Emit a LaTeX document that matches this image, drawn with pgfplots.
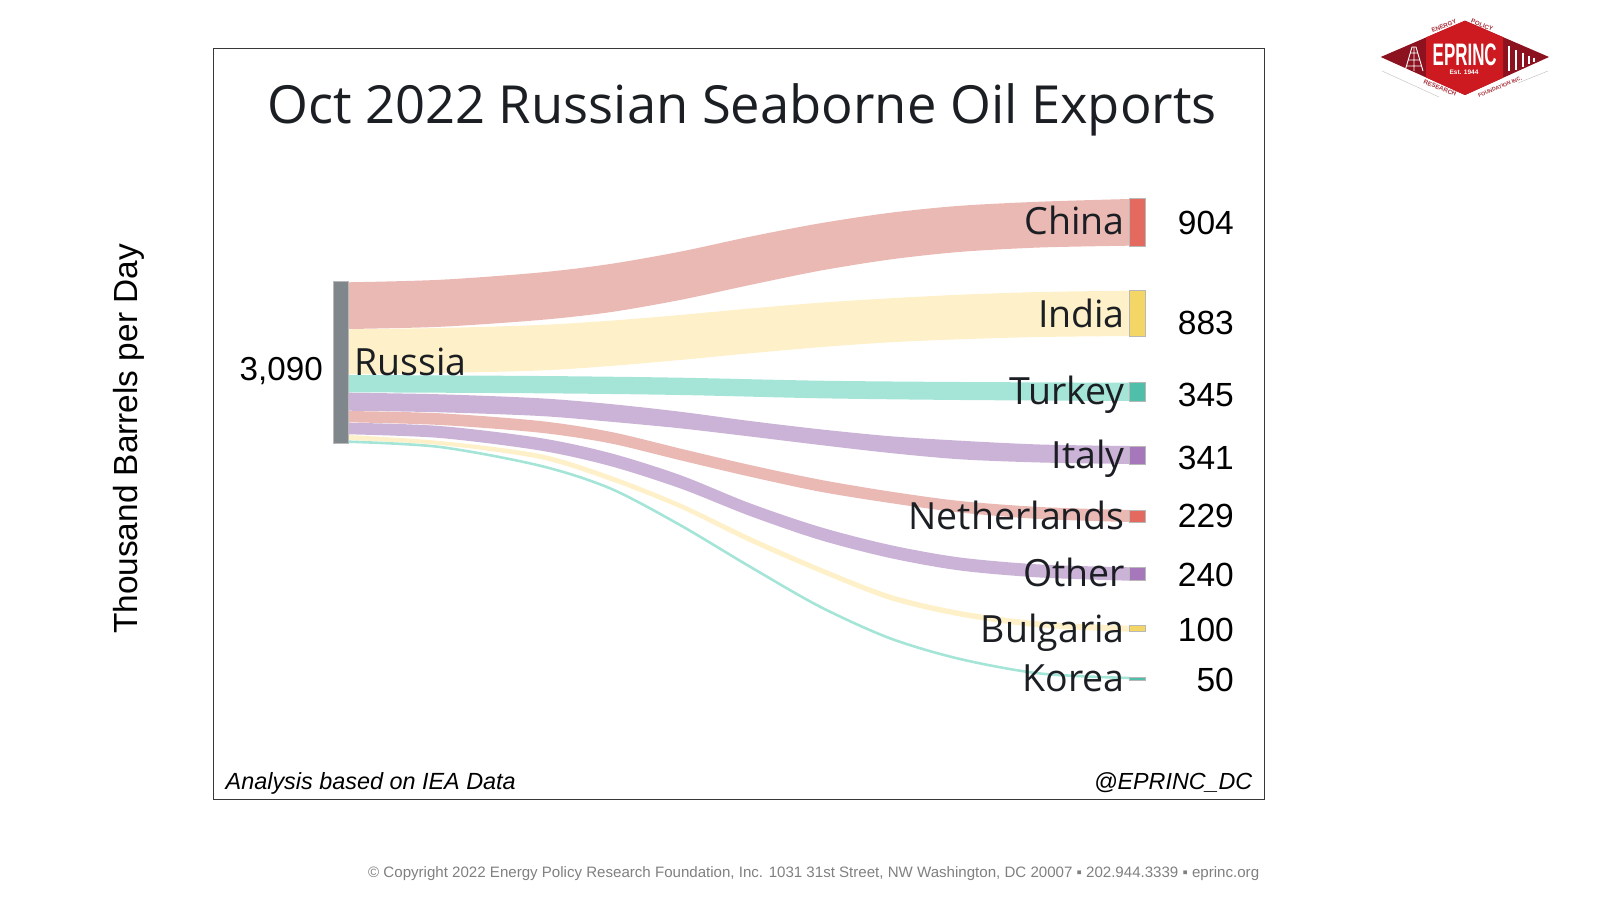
\documentclass[border=0pt]{standalone}
\usepackage{fontspec}
\usepackage{pgfplots}
\pgfplotsset{compat=1.18}
\usepgfplotslibrary{fillbetween}
\setmainfont{Liberation Sans}
\newfontfamily\os{Open Sans}
\definecolor{bandred}{HTML}{EBB9B4}
\definecolor{bandyel}{HTML}{FEF0C8}
\definecolor{bandgrn}{HTML}{A5E5D8}
\definecolor{bandpur}{HTML}{CBB3D7}
\definecolor{nodered}{HTML}{E46A60}
\definecolor{nodeyel}{HTML}{F4D666}
\definecolor{nodegrn}{HTML}{4FBFA9}
\definecolor{nodepur}{HTML}{A678BB}
\definecolor{nodegry}{HTML}{7F868C}
\definecolor{logored}{HTML}{CC1A20}
\definecolor{logodark}{HTML}{8C1220}
\definecolor{logotxt}{HTML}{A8323C}
\definecolor{inkc}{HTML}{1B1E22}
\newcommand\band[4]{%
  \addplot[name path=#1T,draw=none,smooth,forget plot] coordinates {#3};
  \addplot[name path=#1B,draw=none,smooth,forget plot] coordinates {#4};
  \addplot[fill=#2,draw=none,forget plot] fill between[of=#1T and #1B];
}
\newcommand\nodebar[3]{%
  \addplot[fill=#1,draw=black!28,line width=0.9pt,forget plot] coordinates {(1129.5,#2)(1145.5,#2)(1145.5,#3)(1129.5,#3)} -- cycle;
}
\begin{document}
\begin{tikzpicture}
\begin{axis}[
  scale only axis, width=1051pt, height=751pt,
  xmin=213, xmax=1264, ymin=48, ymax=799, y dir=reverse,
  xtick=\empty, ytick=\empty, clip=false,
  axis line style={draw=black!78,line width=0.9pt},
  ylabel={\fontsize{33.4}{33.4}\selectfont Thousand Barrels per Day},
  every axis y label/.style={at={(axis cs:137.5,439)},rotate=90,anchor=base,inner sep=0pt},
]
\band{cn}{bandred}{(348.3,282.3)(440,279.8)(540,272.5)(610,264)(680,251.7)(750,236.7)(820,223.3)(890,212.8)(960,205.8)(1040,201.7)(1129.3,199)}
{(348.3,329)(440,326.8)(540,320)(610,312.2)(680,300)(750,285)(820,270.7)(890,259.5)(960,251.9)(1040,247.5)(1129.3,245.7)}
\band{in}{bandyel}{(348.3,329.3)(440,328)(540,325)(610,320.7)(680,315)(750,308.5)(820,302.7)(890,298.3)(960,294.7)(1040,292)(1129.3,290.7)}
{(348.3,374.3)(440,373)(540,370.5)(610,366)(680,360)(750,353.3)(820,347.2)(890,342.3)(960,339.3)(1040,337)(1129.3,336)}
\band{tr}{bandgrn}{(348.3,375)(540,376)(680,377.7)(820,380.7)(960,382)(1129.3,382.7)}
{(348.3,392.3)(540,393.3)(680,395)(820,398.3)(960,400)(1129.3,401)}
\band{it}{bandpur}{(348.3,392.7)(440,394.3)(540,398.3)(610,404)(680,411.7)(750,421)(820,429.3)(890,436.2)(960,440.7)(1040,444.5)(1129.3,446)}
{(348.3,410.7)(440,412.3)(540,416)(610,421.7)(680,428.3)(750,436.5)(820,445)(890,453)(960,459.3)(1040,462.5)(1129.3,464)}
\band{nl}{bandred}{(348.3,411)(440,413.3)(540,421)(610,431.7)(680,448.5)(750,465)(820,479.7)(890,491.5)(960,501)(1040,507)(1129.3,510)}
{(348.3,422.3)(440,425)(540,432.7)(610,443.3)(680,460.2)(750,476.7)(820,491.7)(890,503)(960,512.5)(1040,519)(1129.3,522)}
\band{ot}{bandpur}{(348.3,422.7)(440,426)(540,438)(610,453)(680,475)(750,503.3)(820,527)(890,545)(960,557.5)(1040,564.5)(1129.3,567.3)}
{(348.3,434.3)(440,438)(540,450.5)(610,466)(680,488.3)(750,516)(820,540)(890,558)(960,570.5)(1040,577.5)(1129.3,580.7)}
\band{bg}{bandyel}{(348.3,435)(440,441)(540,454)(610,475.5)(680,503.3)(750,536.7)(820,567.3)(890,594.5)(960,611)(1040,621.5)(1129.3,625.7)}
{(348.3,440)(440,445)(540,459)(610,480.7)(680,508.3)(750,542.3)(820,572.7)(890,600)(960,616.5)(1040,627.5)(1129.3,631.7)}
\addplot[draw=bandgrn,line width=2.6pt,smooth,forget plot] coordinates {(348.3,441.7)(440,447)(540,465.7)(610,488.3)(680,525)(750,566.7)(820,606.7)(890,638.3)(960,659)(1040,673.5)(1129.3,678)};
% source node
\addplot[fill=nodegry,draw=black!28,line width=0.9pt,forget plot] coordinates {(333.5,281.7)(348.3,281.7)(348.3,443.3)(333.5,443.3)} -- cycle;
\nodebar{nodered}{198.3}{246}
\nodebar{nodeyel}{290.7}{336.7}
\nodebar{nodegrn}{382.3}{401}
\nodebar{nodepur}{446}{464}
\nodebar{nodered}{510}{522}
\nodebar{nodepur}{567.3}{580.7}
\nodebar{nodeyel}{625.7}{631.7}
\nodebar{nodegrn}{677}{680}
% title
\node[anchor=base,inner sep=0pt,text=inkc,font=\fontsize{52.5}{52.5}\selectfont\os] at (axis cs:742,123.5) {Oct 2022 Russian Seaborne Oil Exports};
% labels
\tikzset{cl/.style={anchor=base east,inner sep=0pt,text=inkc,font=\fontsize{37.5}{37.5}\selectfont\os},
  vl/.style={anchor=base east,inner sep=0pt,text=black,font=\fontsize{33.5}{33.5}\selectfont}}
\node[anchor=base west,inner sep=0pt,text=inkc,font=\fontsize{37.5}{37.5}\selectfont\os] at (axis cs:354,376) {Russia};
\node[anchor=base east,inner sep=0pt,text=black,font=\fontsize{33.2}{33.2}\selectfont] at (axis cs:323,381) {3,090};
\node[cl] at (axis cs:1125,234.8) {China};
\node[cl] at (axis cs:1125,328) {India};
\node[cl] at (axis cs:1125,404.2) {Turkey};
\node[cl] at (axis cs:1125,469) {Italy};
\node[cl] at (axis cs:1125,529.7) {Netherlands};
\node[cl] at (axis cs:1125,586.3) {Other};
\node[cl] at (axis cs:1125,642.2) {Bulgaria};
\node[cl] at (axis cs:1125,691.2) {Korea};
\node[vl] at (axis cs:1234,234.3) {904};
\node[vl] at (axis cs:1234,335) {883};
\node[vl] at (axis cs:1234,406.7) {345};
\node[vl] at (axis cs:1234,469.3) {341};
\node[vl] at (axis cs:1234,527.3) {229};
\node[vl] at (axis cs:1234,586.2) {240};
\node[vl] at (axis cs:1234,641) {100};
\node[vl] at (axis cs:1234,691.7) {50};
% notes
\node[anchor=base west,inner sep=0pt,font=\fontsize{23.4}{23.4}\selectfont\itshape] at (axis cs:225.5,789) {Analysis based on IEA Data};
\node[anchor=base east,inner sep=0pt,font=\fontsize{23.3}{23.3}\selectfont\itshape] at (axis cs:1252.5,789) {@EPRINC\_DC};
\node[anchor=base west,inner sep=0pt,text=black!50,font=\fontsize{15.08}{15.08}\selectfont] at (axis cs:368,877) {© Copyright 2022 Energy Policy Research Foundation, Inc. 1031 31st Street, NW Washington, DC 20007 ▪ 202.944.3339 ▪ eprinc.org};
% logo
\fill[logodark] (axis cs:1380.7,57) -- (axis cs:1465,20.7) -- (axis cs:1549,57) -- (axis cs:1465,95) -- cycle;
\fill[logored] (axis cs:1426,37.5) -- (axis cs:1465,20.7) -- (axis cs:1503,37.2) -- (axis cs:1503,77.7) -- (axis cs:1465,95) -- (axis cs:1426,77.4) -- cycle;
\node[anchor=center,inner sep=0pt,text=white] at (axis cs:1464.7,54.8) {\resizebox{64pt}{21.7pt}{\bfseries EPRINC}};
\node[anchor=center,inner sep=0pt,text=white,font=\fontsize{6.5}{6.5}\selectfont\bfseries] at (axis cs:1464,72) {Est. 1944};
\tikzset{lt/.style={inner sep=0pt,text=logotxt,font=\fontsize{6.2}{6.2}\selectfont\bfseries}}
\node[lt,rotate=22] at (axis cs:1444,26) {ENERGY};
\node[lt,rotate=-22] at (axis cs:1482,25) {POLICY};
\node[lt,rotate=-22] at (axis cs:1440,88) {RESEARCH};
\node[lt,rotate=23,font=\fontsize{5.3}{5.3}\selectfont\bfseries] at (axis cs:1500,87) {FOUNDATION INC.};
\draw[white,line width=0.9pt] (axis cs:1405,71) -- (axis cs:1412,47) -- (axis cs:1416,47) -- (axis cs:1423,71) (axis cs:1408,60) -- (axis cs:1420,60) (axis cs:1410,53) -- (axis cs:1418,53) (axis cs:1407,66) -- (axis cs:1421,66) (axis cs:1414,47) -- (axis cs:1414,71);
\draw[white,line width=1.8pt] (axis cs:1509,46) -- (axis cs:1509,71) (axis cs:1516,50) -- (axis cs:1516,70) (axis cs:1523,53) -- (axis cs:1523,67) (axis cs:1529,56) -- (axis cs:1529,64) (axis cs:1534,58) -- (axis cs:1534,62);
\draw[black!22,line width=0.5pt] (axis cs:1382,71) -- (axis cs:1439,97) (axis cs:1548,71) -- (axis cs:1518,83);
\end{axis}
\pgfresetboundingbox
\path[use as bounding box] (-213pt,-101pt) rectangle (1387pt,799pt);
\end{tikzpicture}
\end{document}
